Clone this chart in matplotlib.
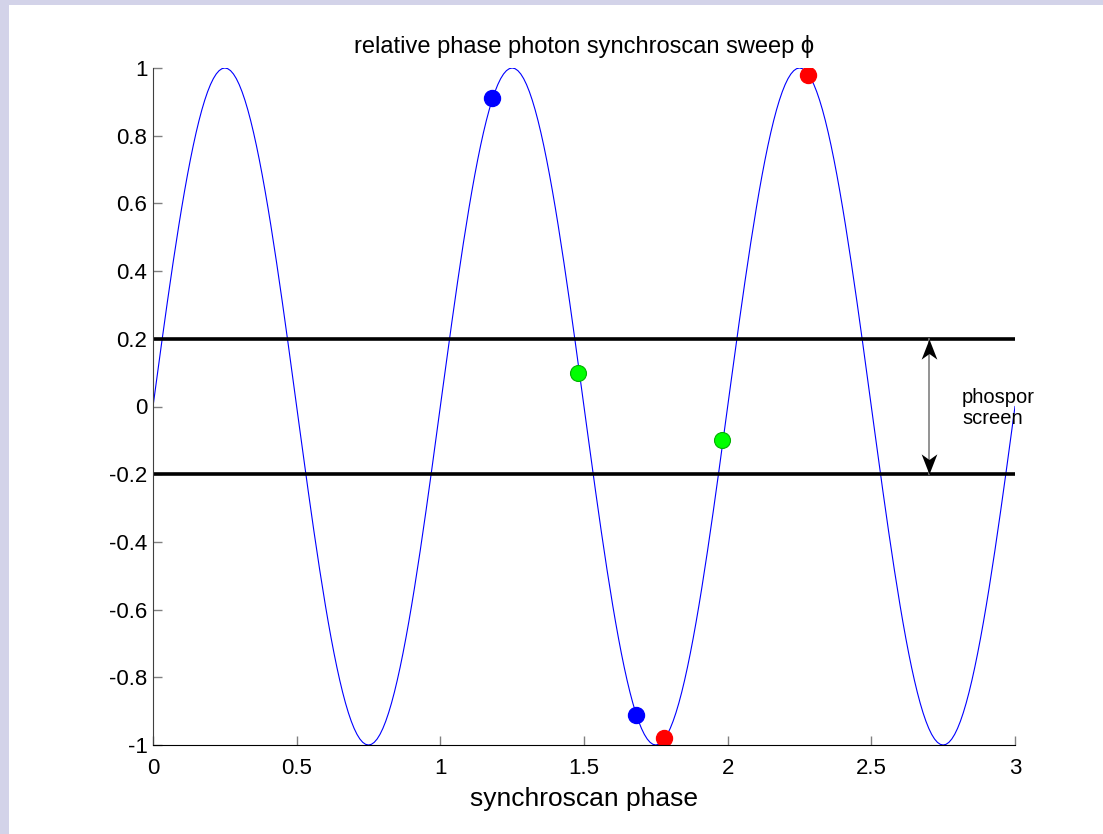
import numpy as np
import matplotlib
matplotlib.use("Agg")
import matplotlib.pyplot as plt
from matplotlib.patches import Rectangle

plt.rcParams['font.family'] = ['Liberation Sans', 'DejaVu Sans']
plt.rcParams['axes.unicode_minus'] = False

# sweep: one period per unit of synchroscan phase
periodo = 1.0
amplitud = 1.0
x_fase = np.linspace(0, 3, 301)

# photon positions on the sweep
x_azul = [1.18, 1.68]
y_azul = [0.91, -0.91]
x_verde = [1.48, 1.98]
y_verde = [0.10, -0.10]
x_rojo = [1.78, 2.28]
y_rojo = [-0.98, 0.98]

# phosphor screen edges
pantalla = [0.2, -0.2]
x_flecha = 2.7

xticks = [0, 0.5, 1, 1.5, 2, 2.5, 3]
yticks = [-1, -0.8, -0.6, -0.4, -0.2, 0, 0.2, 0.4, 0.6, 0.8, 1]

fig = plt.figure(figsize=(11.03, 8.34), dpi=100)
fig.patch.set_facecolor('white')
borde = '#d3d3e9'
fig.patches.append(Rectangle((0, 0), 9 / 1103, 1, transform=fig.transFigure,
                             facecolor=borde, edgecolor='none', zorder=-1))
fig.patches.append(Rectangle((0, 1 - 5 / 834), 1, 5 / 834, transform=fig.transFigure,
                             facecolor=borde, edgecolor='none', zorder=-1))

ax = fig.add_axes([153 / 1103, 1 - 745 / 834, 862 / 1103, 677 / 834])

ax.plot(x_fase, amplitud * np.sin(2 * np.pi * x_fase / periodo), color='#0000ff', lw=0.8)

for y0 in pantalla:
    ax.plot([0, 3], [y0, y0], color='k', lw=2.6, solid_capstyle='butt')

# double arrow with barbed heads
ax.plot([x_flecha, x_flecha], pantalla, color='#808080', lw=1.2)
punta = [(0, 0), (0.39, -1), (0, -0.72), (-0.39, -1), (0, 0)]
punta_abajo = [(px, -py) for px, py in punta]
ax.plot([x_flecha], [pantalla[0]], marker=punta, ms=29, color='k', mew=0, ls='none')
ax.plot([x_flecha], [pantalla[1]], marker=punta_abajo, ms=29, color='k', mew=0, ls='none')
ax.text(2.816, -0.005, 'phospor\nscreen', fontsize=14.5, ha='left', va='center', linespacing=1.1)

ax.plot(x_azul, y_azul, 'o', color='#0000ff', ms=11.5, mec='#0000ff')
ax.plot(x_verde, y_verde, 'o', color='#00ff00', ms=11.5, mec='#00b000', mew=0.8)
ax.plot(x_rojo, y_rojo, 'o', color='#ff0000', ms=11.5, mec='#ff0000')

ax.set_xlim(0, 3)
ax.set_ylim(-1, 1)
ax.set_xticks(xticks)
ax.set_xticklabels(['0', '0.5', '1', '1.5', '2', '2.5', '3'])
ax.set_yticks(yticks)
ax.set_yticklabels(['-1', '-0.8', '-0.6', '-0.4', '-0.2', '0', '0.2', '0.4', '0.6', '0.8', '1'])
ax.spines['top'].set_visible(False)
ax.spines['right'].set_visible(False)
ax.spines['left'].set_color('#404040')
ax.spines['bottom'].set_color('k')
ax.tick_params(direction='in', length=6.5, width=1, color='#808080', labelsize=16)
ax.tick_params(axis='x', pad=9)
ax.tick_params(axis='y', pad=4)

ax.set_title('relative phase photon synchroscan sweep \u03d5', fontsize=17, pad=11)
ax.set_xlabel('synchroscan phase', fontsize=19, labelpad=6)

fig.savefig('out.png', dpi=100, facecolor=fig.get_facecolor())
